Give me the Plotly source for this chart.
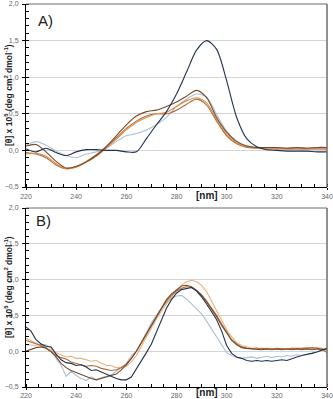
import plotly.graph_objects as go

# ---------------- data ----------------
wl_a = [220, 224, 228, 232, 236, 240, 244, 248, 252, 256, 260, 264, 268, 272, 276, 280,
        284, 288, 292, 296, 300, 304, 308, 312, 316, 320, 324, 328, 332, 336, 340]

a_navy = [0.02, -0.02, 0.03, -0.03, -0.07, -0.02, 0.01, 0.01, 0.00, 0.00, -0.02, -0.02, 0.16, 0.35, 0.53, 0.77,
          1.07, 1.37, 1.50, 1.38, 0.95, 0.45, 0.16, 0.05, 0.01, 0.00, -0.01, -0.01, -0.01, -0.02, -0.02]
a_lightblue = [0.07, 0.12, 0.07, -0.01, -0.07, -0.10, -0.05, -0.02, 0.03, 0.12, 0.20, 0.23, 0.28, 0.35, 0.45, 0.60,
               0.70, 0.77, 0.73, 0.49, 0.26, 0.13, 0.06, 0.04, 0.03, 0.03, 0.02, 0.02, 0.02, 0.02, 0.02]
a_darkbrown = [0.06, 0.08, -0.02, -0.15, -0.24, -0.22, -0.16, -0.07, 0.05, 0.20, 0.35, 0.47, 0.53, 0.55, 0.60, 0.66,
               0.74, 0.82, 0.72, 0.45, 0.25, 0.12, 0.06, 0.04, 0.04, 0.04, 0.03, 0.04, 0.03, 0.04, 0.04]
a_orange = [-0.05, -0.04, -0.08, -0.18, -0.25, -0.23, -0.16, -0.08, 0.03, 0.15, 0.28, 0.38, 0.45, 0.50, 0.52, 0.60,
            0.68, 0.72, 0.65, 0.42, 0.22, 0.10, 0.05, 0.03, 0.03, 0.03, 0.03, 0.03, 0.03, 0.03, 0.03]
a_brown = [-0.03, -0.05, -0.10, -0.20, -0.25, -0.22, -0.15, -0.06, 0.05, 0.17, 0.30, 0.40, 0.47, 0.50, 0.50, 0.55,
           0.63, 0.70, 0.62, 0.40, 0.20, 0.09, 0.04, 0.03, 0.02, 0.02, 0.02, 0.02, 0.02, 0.02, 0.02]

wl_b = list(range(220, 341, 2))

b_navy = [0.34, 0.28, 0.16, 0.10, 0.07, 0.06, -0.04, -0.12, -0.16, -0.17, -0.20, -0.19, -0.22, -0.27, -0.26,
          -0.29, -0.32, -0.36, -0.38, -0.40, -0.40, -0.36, -0.25, -0.14, -0.02, 0.10, 0.26, 0.44, 0.60, 0.72,
          0.81, 0.86, 0.88, 0.89, 0.84, 0.76, 0.66, 0.55, 0.44, 0.28, 0.08, -0.03, -0.08, -0.10, -0.13,
          -0.14, -0.13, -0.14, -0.13, -0.14, -0.13, -0.12, -0.13, -0.10, -0.08, -0.06, -0.05, -0.03, -0.01, 0.02, 0.04]
b_lightblue = [0.09, 0.08, 0.08, 0.10, 0.09, 0.04, -0.10, -0.20, -0.35, -0.28, -0.34, -0.38, -0.41, -0.36, -0.40,
               -0.37, -0.35, -0.33, -0.28, -0.23, -0.17, -0.06, 0.00, 0.12, 0.27, 0.40, 0.50, 0.60, 0.68, 0.74,
               0.77, 0.78, 0.73, 0.66, 0.60, 0.52, 0.42, 0.31, 0.20, 0.08, -0.02, -0.06, -0.09, -0.10, -0.09,
               -0.08, -0.10, -0.08, -0.07, -0.09, -0.07, -0.08, -0.06, -0.07, -0.05, -0.06, -0.04, -0.03, -0.01, 0.02, 0.03]
b_orange = [0.18, 0.15, 0.11, 0.08, 0.04, 0.01, -0.02, -0.05, -0.08, -0.07, -0.10, -0.10, -0.12, -0.14, -0.13,
            -0.17, -0.20, -0.20, -0.23, -0.22, -0.21, -0.15, -0.06, 0.07, 0.20, 0.33, 0.45, 0.56, 0.66, 0.76,
            0.84, 0.92, 0.97, 0.99, 0.97, 0.92, 0.83, 0.70, 0.57, 0.44, 0.30, 0.20, 0.12, 0.08, 0.06,
            0.04, 0.05, 0.03, 0.04, 0.03, 0.03, 0.04, 0.03, 0.04, 0.03, 0.04, 0.05, 0.04, 0.05, 0.04, 0.03]
b_brown = [0.15, 0.13, 0.11, 0.08, 0.05, 0.00, -0.06, -0.09, -0.11, -0.15, -0.17, -0.19, -0.21, -0.20, -0.21,
           -0.24, -0.26, -0.27, -0.26, -0.23, -0.18, -0.10, 0.00, 0.12, 0.25, 0.38, 0.50, 0.60, 0.70, 0.78,
           0.84, 0.88, 0.90, 0.89, 0.85, 0.79, 0.70, 0.60, 0.50, 0.38, 0.26, 0.16, 0.10, 0.06, 0.04,
           0.03, 0.03, 0.04, 0.03, 0.03, 0.04, 0.03, 0.03, 0.04, 0.04, 0.03, 0.04, 0.05, 0.04, 0.03, -0.02]
b_darkbrown = [0.00, 0.03, 0.05, 0.06, 0.04, -0.01, -0.08, -0.17, -0.23, -0.27, -0.30, -0.33, -0.36, -0.38, -0.40,
               -0.38, -0.36, -0.35, -0.32, -0.26, -0.19, -0.10, 0.00, 0.12, 0.24, 0.37, 0.50, 0.62, 0.72, 0.80,
               0.86, 0.91, 0.92, 0.90, 0.85, 0.78, 0.69, 0.59, 0.48, 0.36, 0.25, 0.15, 0.09, 0.05, 0.04,
               0.03, 0.03, 0.02, 0.03, 0.02, 0.03, 0.02, 0.03, 0.02, 0.03, 0.02, 0.03, 0.02, 0.03, 0.02, 0.02]

x_ticks = [220, 240, 260, 280, 300, 320, 340]
y_ticks = [-0.5, 0.0, 0.5, 1.0, 1.5, 2.0]
y_title = "[θ] x 10<sup>5</sup> (deg cm<sup>2</sup> dmol<sup>-1</sup>)"

# ---------------- styling ----------------
C_NAVY = "#1f3350"
C_LBLUE = "#a9c1d9"
C_DBROWN = "#7a4a2a"
C_ORANGE = "#dd8a45"
C_BROWN = "#b06a35"
C_TAN = "#e8b07a"

W, H = 333, 399
x0, x1 = 26 / W, 327 / W
dom_a = [1 - 187 / H, 1 - 4 / H]
dom_b = [1 - 387 / H, 1 - 208 / H]

fig = go.Figure()

panel_a = [(a_lightblue, C_LBLUE), (a_brown, C_BROWN), (a_orange, C_ORANGE),
           (a_darkbrown, C_DBROWN), (a_navy, C_NAVY)]
for ys, c in panel_a:
    fig.add_trace(go.Scatter(x=wl_a, y=ys, mode="lines", xaxis="x", yaxis="y",
                             line=dict(color=c, width=1.1, shape="spline", smoothing=0.8),
                             showlegend=False, hoverinfo="skip"))

panel_b = [(b_lightblue, C_LBLUE), (b_orange, C_TAN), (b_brown, C_BROWN),
           (b_darkbrown, C_DBROWN), (b_navy, C_NAVY)]
for ys, c in panel_b:
    fig.add_trace(go.Scatter(x=wl_b, y=ys, mode="lines", xaxis="x2", yaxis="y2",
                             line=dict(color=c, width=1.1),
                             showlegend=False, hoverinfo="skip"))

tickfont = dict(family="Liberation Sans, Arial, sans-serif", size=7, color="#666666")

def xax(anchor, standoff):
    return dict(domain=[x0, x1], range=[220, 340], anchor=anchor,
                tickvals=x_ticks, ticks="outside", ticklen=2, tickcolor="#000",
                minor=dict(dtick=5, tick0=220, ticks="inside", ticklen=3, tickcolor="#000", showgrid=False),
                showgrid=False, zeroline=False, showline=True, linecolor="#000", linewidth=1,
                tickfont=tickfont, ticklabelstandoff=standoff, automargin=False)

def yax(anchor, dom):
    return dict(domain=dom, range=[-0.5, 2.0], anchor=anchor,
                tickvals=y_ticks, tickformat=".1f", ticks="outside", ticklen=3, tickcolor="#000",
                minor=dict(dtick=0.1, tick0=0, ticks="inside", ticklen=3, tickcolor="#000", showgrid=False),
                showgrid=True, gridcolor="#d4d4d4", gridwidth=1, zeroline=False,
                showline=True, linecolor="#000", linewidth=1,
                tickfont=tickfont, ticklabelstandoff=2, automargin=False)

shapes = []
for xr, yr in (("x domain", "y domain"), ("x2 domain", "y2 domain")):
    shapes.append(dict(type="line", xref=xr, yref=yr, x0=0, x1=1, y0=1, y1=1,
                       line=dict(color="#6b6b6b", width=1)))
    shapes.append(dict(type="line", xref=xr, yref=yr, x0=1, x1=1, y0=0, y1=1,
                       line=dict(color="#6b6b6b", width=1.5)))

annotations = []
def ann(text, px, py, size, angle=0):
    annotations.append(dict(text=text, xref="paper", yref="paper", x=px / W, y=1 - py / H,
                            xanchor="center", yanchor="middle", textangle=angle, showarrow=False,
                            font=dict(family="Liberation Sans, Arial", size=size, color="#222")))

ann("A)", 45, 21, 15)
ann("B)", 43, 220, 15)
ann("<b>[nm]</b>", 207, 195, 10)
ann("<b>[nm]</b>", 207, 392, 10)
ann("<b>" + y_title + "</b>", 8, 95, 8.5, -90)
ann("<b>" + y_title + "</b>", 8, 287, 8.5, -90)

fig.update_layout(
    width=W, height=H, margin=dict(l=0, r=0, t=0, b=0, autoexpand=False),
    paper_bgcolor="white", plot_bgcolor="white",
    separators=", ",
    xaxis=xax("y", 1), yaxis=yax("x", dom_a),
    xaxis2=xax("y2", 0), yaxis2=yax("x2", dom_b),
    shapes=shapes, annotations=annotations,
)

fig.write_html("out.html", config={"displayModeBar": False, "staticPlot": True},
               post_script="document.body.style.margin='0';document.body.style.overflow='hidden';")
